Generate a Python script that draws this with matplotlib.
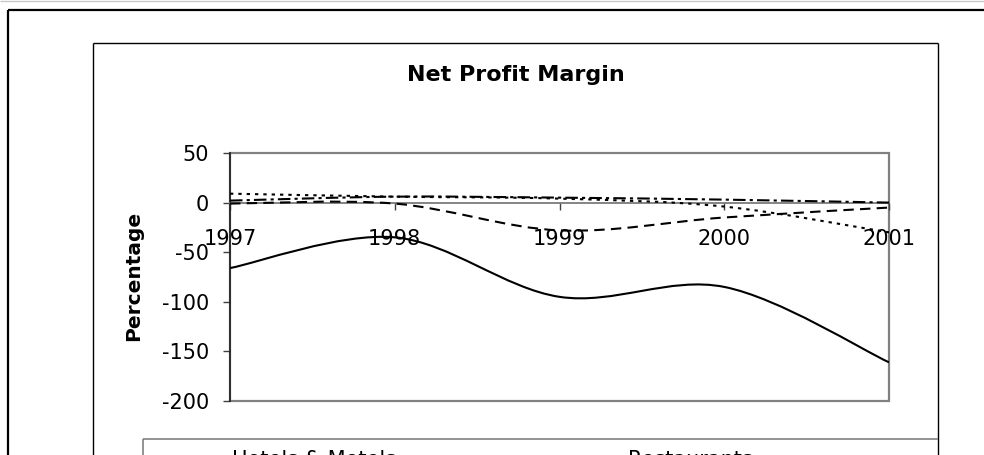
import matplotlib
matplotlib.use("Agg")
import matplotlib.pyplot as plt
from matplotlib.path import Path
from matplotlib.patches import PathPatch, Rectangle
from matplotlib.lines import Line2D

plt.rcParams['font.family'] = ['DejaVu Sans']

# ---- data ----
years = [1997, 1998, 1999, 2000, 2001]
year_labels = ["1997", "1998", "1999", "2000", "2001"]
solid_series = [-66, -35, -95, -85, -161]
dash_series = [-1, -1, -28, -15, -5]
dot_series = [9, 6, 4, -4, -30]
dashdot_series = [2, 6, 5, 3, 0]
legend_labels = ["Hotels & Motels", "Restaurants"]
yticks = [50, 0, -50, -100, -150, -200]
title = "Net Profit Margin"
ylabel = "Percentage"

W, H = 984, 455
fig = plt.figure(figsize=(W / 100, H / 100), dpi=100)


def fx(x):
    return x / W


def fy(y):
    return 1 - y / H


def fig_line(xs, ys, color="black", lw=1.0):
    fig.add_artist(Line2D([fx(x) for x in xs], [fy(y) for y in ys],
                          transform=fig.transFigure, color=color, lw=lw,
                          solid_capstyle="butt"))


# outer borders
fig_line([0, W], [0.5, 0.5], color="#c8c8c8", lw=1.0)
fig_line([8, W], [10, 10], color="black", lw=1.6)
fig_line([8, 8], [10, H], color="black", lw=1.6)
# inner chart area
fig_line([93, 938], [43, 43], color="black", lw=1.0)
fig_line([93, 93], [43, H], color="black", lw=1.0)
fig_line([938, 938], [43, H], color="black", lw=1.0)
# legend box
fig_line([143, 938], [439, 439], color="#808080", lw=1.2)
fig_line([143, 143], [439, H], color="#808080", lw=1.2)

ax = fig.add_axes([fx(230), fy(401), (889 - 230) / W, (401 - 153) / H])
ax.set_xlim(years[0], years[-1])
ax.set_ylim(-200, 50)


def smooth_path(xs, ys):
    pts = list(zip(xs, ys))
    n = len(pts)
    verts = [pts[0]]
    codes = [Path.MOVETO]
    for i in range(n - 1):
        p0 = pts[i - 1] if i > 0 else pts[i]
        p1 = pts[i]
        p2 = pts[i + 1]
        p3 = pts[i + 2] if i + 2 < n else pts[i + 1]
        c1 = (p1[0] + (p2[0] - p0[0]) / 6, p1[1] + (p2[1] - p0[1]) / 6)
        c2 = (p2[0] - (p3[0] - p1[0]) / 6, p2[1] - (p3[1] - p1[1]) / 6)
        verts += [c1, c2, p2]
        codes += [Path.CURVE4] * 3
    return Path(verts, codes)


styles = [
    (solid_series, "solid"),
    (dash_series, (0, (5, 3))),
    (dot_series, (0, (1.6, 2.4))),
    (dashdot_series, (0, (6, 2, 1.5, 2))),
]
for vals, ls in styles:
    ax.add_patch(PathPatch(smooth_path(years, vals), fill=False,
                           ec="black", lw=1.5, ls=ls, zorder=3,
                           capstyle="butt"))

# frame of plot area
ax.add_patch(Rectangle((0, 0), 1, 1, transform=ax.transAxes, fill=False,
                       ec="#808080", lw=1.6, clip_on=False, zorder=1))
for s in ["top", "right"]:
    ax.spines[s].set_visible(False)
ax.spines["bottom"].set_position(("data", 0))
ax.spines["bottom"].set_color("#707070")
ax.spines["bottom"].set_linewidth(1.2)
ax.spines["left"].set_color("#202020")
ax.spines["left"].set_linewidth(1.2)

ax.set_xticks(years)
ax.set_xticklabels(year_labels)
ax.set_yticks(yticks)
ax.set_yticklabels([str(v) for v in yticks])
ax.tick_params(axis="x", direction="out", length=5, width=1, color="#404040",
               labelsize=15, pad=14)
ax.tick_params(axis="y", direction="out", length=5, width=1, color="#404040",
               labelsize=15, pad=10)

fig.text(fx(516), fy(81), title, fontsize=16, fontweight="bold",
         ha="center", va="baseline")
fig.text(fx(134), fy(276), ylabel, fontsize=14.5, fontweight="bold",
         rotation=90, ha="center", va="center")

# legend entries (cut by bottom of the image, as in the reference)
fig.text(fx(232), fy(466), legend_labels[0], fontsize=15, ha="left", va="baseline")
fig.text(fx(628), fy(466), legend_labels[1], fontsize=15, ha="left", va="baseline")

fig.savefig("out.png", dpi=100)
